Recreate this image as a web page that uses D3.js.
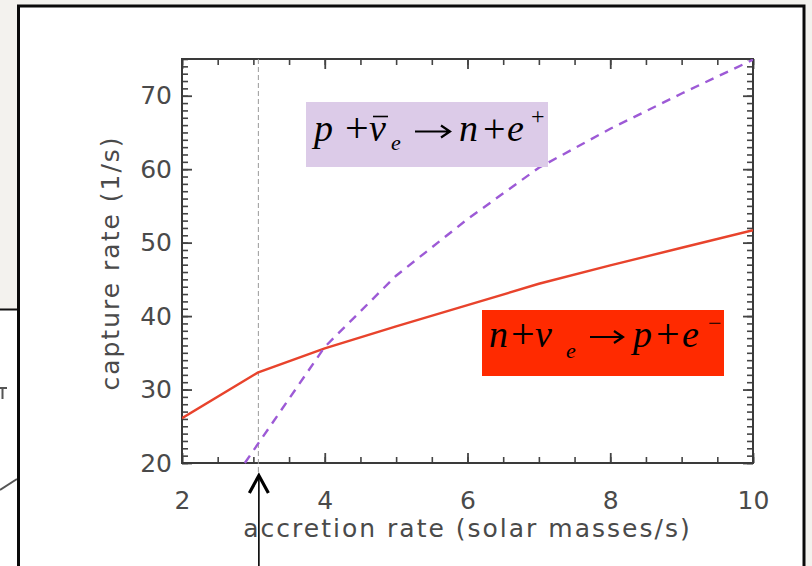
<!DOCTYPE html>
<html>
<head>
<meta charset="utf-8">
<script src="https://cdn.jsdelivr.net/npm/d3@7"></script>
<style>
  html, body { margin: 0; padding: 0; background: #f3f2ee; }
  svg { display: block; }
</style>
</head>
<body>
<svg id="chart" width="812" height="566"></svg>
<script>
// Accretion rate (solar masses / s)
const rateN = [2, 3.06, 4, 5, 6, 7, 8, 9, 10];
// n + nu_e -> p + e- capture rate (1/s)
const captureN = [26.1, 32.3, 35.6, 38.6, 41.5, 44.4, 46.9, 49.3, 51.7];
const rateP = [2.88, 4, 5, 6, 7, 8, 9, 10];
// p + anti-nu_e -> n + e+ capture rate (1/s)
const captureP = [20, 35.8, 45.5, 53.2, 60.2, 65.5, 70.3, 74.9];
// rate where the two regimes part
const markerRate = [3.07];

const xDomain = [2, 10];
const yDomain = [20, 75];
const xMajor = [2, 4, 6, 8, 10];
const yMajor = [20, 30, 40, 50, 60, 70];
const xMinor = d3.range(2, 10.001, 0.5);
const yMinor = d3.range(20, 75.001, 1);

const svg = d3.select("#chart");
const W = 812, H = 566;

// page background and framed panel
svg.append("rect").attr("x", 0).attr("y", 0).attr("width", W).attr("height", H).attr("fill", "#f3f2ee");
svg.append("rect").attr("x", 0).attr("y", 309).attr("width", 18).attr("height", H - 309).attr("fill", "#ffffff");
svg.append("line").attr("x1", 0).attr("x2", 18).attr("y1", 309.5).attr("y2", 309.5)
  .attr("stroke", "#111").attr("stroke-width", 2);
// fragments of the neighbouring panel
svg.append("path").attr("d", "M0,388 L7,388 M2.5,388 L2.5,399")
  .attr("stroke", "#555").attr("stroke-width", 2).attr("fill", "none");
svg.append("path").attr("d", "M0,490 L17,479")
  .attr("stroke", "#555").attr("stroke-width", 2).attr("fill", "none");

svg.append("rect").attr("x", 18.5).attr("y", 6).attr("width", 785.5).attr("height", H)
  .attr("fill", "#ffffff").attr("stroke", "#0a0a0a").attr("stroke-width", 3);

const m = { left: 182, right: 753, top: 59, bottom: 463 };
const x = d3.scaleLinear().domain(xDomain).range([m.left, m.right]);
const y = d3.scaleLinear().domain(yDomain).range([m.bottom, m.top]);

const axisColor = "#444";
const font = "'DejaVu Sans', sans-serif";
const textColor = "#4a4a4a";

function styleAxis(g, width) {
  g.select(".domain").remove();
  g.selectAll(".tick line").attr("stroke", axisColor).attr("stroke-width", width);
}

// minor ticks on all four sides
svg.append("g").attr("transform", `translate(0,${m.bottom})`)
  .call(d3.axisBottom(x).tickValues(xMinor).tickSize(-6).tickFormat(""))
  .call(g => styleAxis(g, 1.6));
svg.append("g").attr("transform", `translate(0,${m.top})`)
  .call(d3.axisTop(x).tickValues(xMinor).tickSize(-6).tickFormat(""))
  .call(g => styleAxis(g, 1.6));
svg.append("g").attr("transform", `translate(${m.left},0)`)
  .call(d3.axisLeft(y).tickValues(yMinor).tickSize(-6).tickFormat(""))
  .call(g => styleAxis(g, 1.6));
svg.append("g").attr("transform", `translate(${m.right},0)`)
  .call(d3.axisRight(y).tickValues(yMinor).tickSize(-6).tickFormat(""))
  .call(g => styleAxis(g, 1.6));

// major ticks with labels
svg.append("g").attr("transform", `translate(0,${m.bottom})`)
  .call(d3.axisBottom(x).tickValues(xMajor).tickSize(-10).tickPadding(28).tickFormat(d3.format("d")))
  .call(g => styleAxis(g, 1.8))
  .selectAll(".tick text").attr("font-family", font).attr("font-size", 25).attr("fill", textColor);

svg.append("g").attr("transform", `translate(${m.left},0)`)
  .call(d3.axisLeft(y).tickValues(yMajor).tickSize(-10).tickPadding(10).tickFormat(d3.format("d")))
  .call(g => styleAxis(g, 1.8))
  .selectAll(".tick text").attr("font-family", font).attr("font-size", 25).attr("fill", textColor);

svg.append("g").attr("transform", `translate(0,${m.top})`)
  .call(d3.axisTop(x).tickValues(xMajor).tickSize(-10).tickFormat(""))
  .call(g => styleAxis(g, 1.8));
svg.append("g").attr("transform", `translate(${m.right},0)`)
  .call(d3.axisRight(y).tickValues(yMajor).tickSize(-10).tickFormat(""))
  .call(g => styleAxis(g, 1.8));

// plot frame
svg.append("rect").attr("x", m.left).attr("y", m.top)
  .attr("width", m.right - m.left).attr("height", m.bottom - m.top)
  .attr("fill", "none").attr("stroke", "#3a3a3a").attr("stroke-width", 2);

// axis titles
svg.append("text").attr("x", (m.left + m.right) / 2).attr("y", 537)
  .attr("text-anchor", "middle").attr("font-family", font).attr("font-size", 25)
  .attr("letter-spacing", 2).attr("fill", textColor)
  .text("accretion rate (solar masses/s)");
svg.append("text").attr("transform", `translate(119,${(m.top + m.bottom) / 2 + 2}) rotate(-90)`)
  .attr("text-anchor", "middle").attr("font-family", font).attr("font-size", 25)
  .attr("letter-spacing", 2).attr("fill", textColor)
  .text("capture rate (1/s)");

// threshold marker
svg.append("line").attr("x1", x(markerRate[0])).attr("x2", x(markerRate[0]))
  .attr("y1", m.top).attr("y2", 472)
  .attr("stroke", "#9a9a9a").attr("stroke-width", 1).attr("stroke-dasharray", "5,3");

// curves
svg.append("clipPath").attr("id", "plotClip").append("rect")
  .attr("x", m.left).attr("y", m.top).attr("width", m.right - m.left).attr("height", m.bottom - m.top + 1);

const line = d3.line().x(d => x(d[0])).y(d => y(d[1]));
const seriesN = rateN.map((r, i) => [r, captureN[i]]);
const seriesP = rateP.map((r, i) => [r, captureP[i]]);

svg.append("path").datum(seriesN).attr("d", line)
  .attr("fill", "none").attr("stroke", "#e8432c").attr("stroke-width", 2.4)
  .attr("clip-path", "url(#plotClip)");
svg.append("path").datum(seriesP).attr("d", line)
  .attr("fill", "none").attr("stroke", "#9d5ad6").attr("stroke-width", 2.4)
  .attr("stroke-dasharray", "9,7").attr("clip-path", "url(#plotClip)");

// reaction labels
const serif = "'Liberation Serif', 'Times New Roman', serif";

function reaction(box, fill, parts, arrow) {
  const g = svg.append("g");
  g.append("rect").attr("x", box[0]).attr("y", box[1]).attr("width", box[2]).attr("height", box[3]).attr("fill", fill);
  parts.forEach(p => {
    g.append("text").attr("x", p.x).attr("y", p.y)
      .attr("font-family", serif).attr("font-size", p.size || 38)
      .attr("font-style", p.italic === false ? "normal" : "italic")
      .attr("fill", "#000").text(p.t);
  });
  // reaction arrow
  const [x0, x1, ya] = arrow;
  g.append("path")
    .attr("d", `M${x0},${ya} L${x1},${ya} M${x1 - 9},${ya - 6} L${x1},${ya} L${x1 - 9},${ya + 6}`)
    .attr("fill", "none").attr("stroke", "#000").attr("stroke-width", 2.2);
  return g;
}

const antiLabel = reaction([306, 102, 242, 65], "#dccbe8", [
  { t: "p", x: 314, y: 141 },
  { t: "+", x: 345, y: 142, size: 42, italic: false },
  { t: "\u03BD", x: 369, y: 141 },
  { t: "e", x: 391, y: 150, size: 22 },
  { t: "n", x: 459, y: 141 },
  { t: "+", x: 483, y: 142, size: 40, italic: false },
  { t: "e", x: 507, y: 141 },
  { t: "+", x: 531, y: 124, size: 24, italic: false }
], [415, 450, 131.5]);
antiLabel.append("line").attr("x1", 373).attr("x2", 388).attr("y1", 116.5).attr("y2", 116.5)
  .attr("stroke", "#000").attr("stroke-width", 1.6);

reaction([482, 310, 242, 66], "#ff2a00", [
  { t: "n", x: 489, y: 347 },
  { t: "+", x: 511, y: 348, size: 42, italic: false },
  { t: "\u03BD", x: 535, y: 347 },
  { t: "e", x: 566, y: 358, size: 22 },
  { t: "p", x: 633, y: 347 },
  { t: "+", x: 656, y: 348, size: 42, italic: false },
  { t: "e", x: 682, y: 347 },
  { t: "\u2212", x: 708, y: 331, size: 24, italic: false }
], [590, 623, 337]);

// arrow pointing at the threshold
svg.append("line").attr("x1", x(markerRate[0]) + 0.5).attr("x2", x(markerRate[0]) + 0.5)
  .attr("y1", H).attr("y2", 477).attr("stroke", "#000").attr("stroke-width", 1.6);
svg.append("path")
  .attr("d", `M${x(markerRate[0]) - 9},493 L${x(markerRate[0]) + 0.5},475.5 L${x(markerRate[0]) + 10},493`)
  .attr("fill", "none").attr("stroke", "#000").attr("stroke-width", 3.2)
  .attr("stroke-linejoin", "miter");
</script>
</body>
</html>
